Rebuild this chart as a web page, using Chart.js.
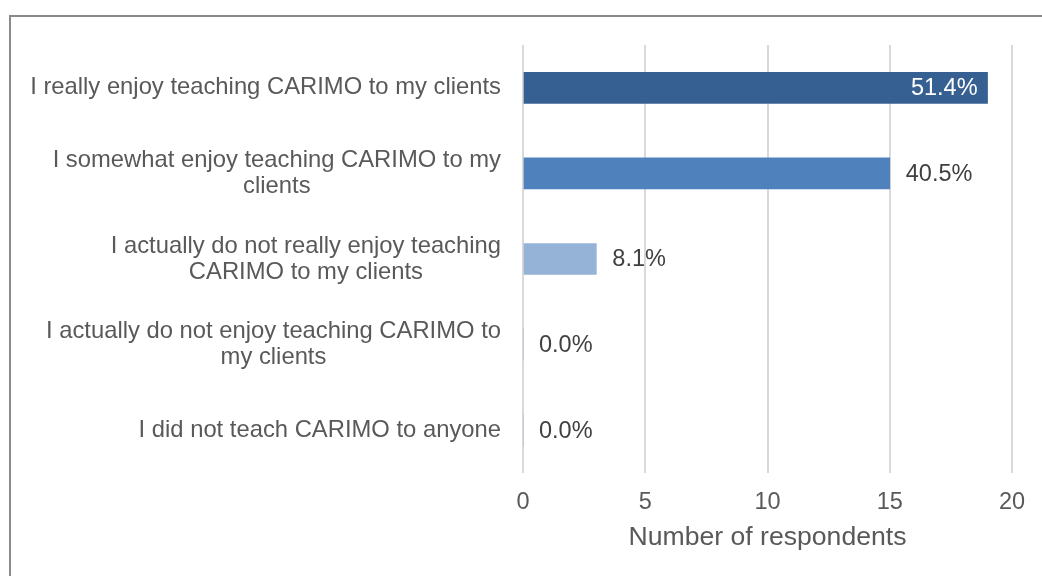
<!DOCTYPE html>
<html><head><meta charset="utf-8">
<script src="https://cdn.jsdelivr.net/npm/chart.js@4"></script>
<style>html,body{margin:0;padding:0;background:#fff;} #wrap{width:1042px;height:576px;position:relative;}</style>
</head><body><div id="wrap"><canvas id="c" width="1042" height="576"></canvas></div>
<script>
const categories = [
  "I really enjoy teaching CARIMO to my clients",
  ["I somewhat enjoy teaching CARIMO to my", "clients"],
  ["I actually do not really enjoy teaching", "CARIMO to my clients"],
  ["I actually do not enjoy teaching CARIMO to", "my clients"],
  "I did not teach CARIMO to anyone"
];
const respondents = [19, 15, 3, 0, 0];
const percentLabels = ["51.4%", "40.5%", "8.1%", "0.0%", "0.0%"];
const xAxisTitle = "Number of respondents";
const xMin = 0, xMax = 20, xStep = 5;
const barColors = ["#376092", "#4f81bd", "#95b3d7", "#95b3d7", "#95b3d7"];

const FONT = "'Liberation Sans', Arial, sans-serif";
const TEXT = "#595959";

const frame = {
  id: 'frame',
  beforeDraw(chart) {
    const ctx = chart.ctx;
    ctx.save();
    ctx.fillStyle = '#fff';
    ctx.fillRect(0, 0, chart.width, chart.height);
    ctx.strokeStyle = '#8a8a8a';
    ctx.lineWidth = 2;
    ctx.strokeRect(10, 16, 3000, 3000);
    ctx.restore();
  }
};

const catLabels = {
  id: 'catLabels',
  afterDraw(chart) {
    const ctx = chart.ctx;
    const y = chart.scales.y;
    const right = chart.chartArea.left - 22;
    const lh = 26;
    ctx.save();
    ctx.font = "23.8px " + FONT;
    ctx.fillStyle = TEXT;
    ctx.textBaseline = 'middle';
    ctx.textAlign = 'center';
    categories.forEach((lab, i) => {
      const lines = Array.isArray(lab) ? lab : [lab];
      const w = Math.max(...lines.map(l => ctx.measureText(l).width));
      const cx = right - w / 2;
      const cy = y.getPixelForValue(i);
      const y0 = cy - (lines.length - 1) * lh / 2;
      lines.forEach((l, k) => ctx.fillText(l, cx, y0 + k * lh));
    });
    ctx.restore();
  }
};

const valueLabels = {
  id: 'valueLabels',
  afterDatasetsDraw(chart) {
    const ctx = chart.ctx;
    const meta = chart.getDatasetMeta(0);
    ctx.save();
    ctx.font = "23.5px " + FONT;
    ctx.textBaseline = 'middle';
    meta.data.forEach((bar, i) => {
      const v = respondents[i];
      if (v >= 10 && bar.x > chart.chartArea.left + (chart.chartArea.right - chart.chartArea.left) * 0.9) {
        ctx.fillStyle = '#ffffff';
        ctx.textAlign = 'right';
        ctx.fillText(percentLabels[i], bar.x - 10, bar.y + 1);
      } else {
        ctx.fillStyle = '#404040';
        ctx.textAlign = 'left';
        ctx.fillText(percentLabels[i], bar.x + 16, bar.y + 1);
      }
    });
    ctx.restore();
  }
};

new Chart(document.getElementById('c'), {
  type: 'bar',
  data: {
    labels: categories,
    datasets: [{
      data: respondents,
      backgroundColor: barColors,
      borderWidth: 0,
      barThickness: 31
    }]
  },
  options: {
    indexAxis: 'y',
    responsive: false,
    animation: false,
    devicePixelRatio: 1,
    layout: { padding: { top: 45, right: 30, left: 0, bottom: 0 } },
    plugins: { legend: { display: false }, tooltip: { enabled: false } },
    scales: {
      x: {
        min: xMin, max: xMax,
        ticks: { stepSize: xStep, color: TEXT, font: { family: FONT, size: 23.5 }, padding: 15 },
        grid: { color: '#d9d9d9', lineWidth: 2, drawTicks: false },
        border: { display: false },
        title: { display: true, text: xAxisTitle, color: TEXT, font: { family: FONT, size: 26.6 }, padding: { top: 0, bottom: 22 } },
        afterFit(s) { s.height = 103; }
      },
      y: {
        grid: { display: false },
        border: { display: false },
        ticks: { display: false },
        afterFit(s) { s.width = 523; }
      }
    }
  },
  plugins: [frame, catLabels, valueLabels]
});
</script></body></html>
